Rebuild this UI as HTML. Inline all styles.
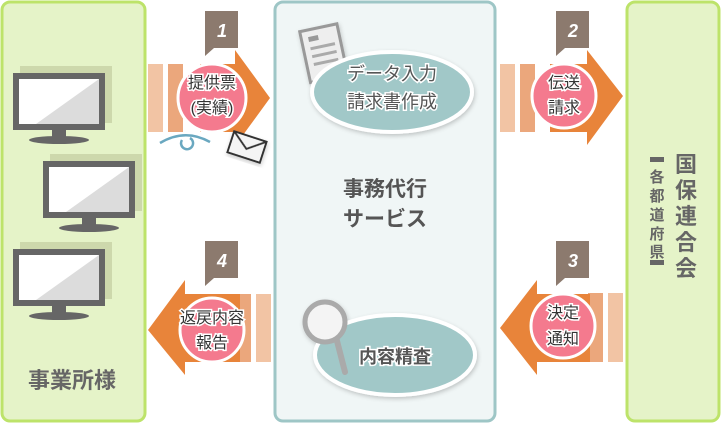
<!DOCTYPE html>
<html><head><meta charset="utf-8"><style>
body{margin:0;background:#fff;width:722px;height:424px;overflow:hidden}
svg{display:block}
text{font-family:"Liberation Sans","Noto Sans CJK JP",sans-serif}
</style></head><body>
<svg width="722" height="424" viewBox="0 0 722 424">
<defs>
<filter id="sh" x="-20%" y="-20%" width="140%" height="140%"><feDropShadow dx="1" dy="2" stdDeviation="2" flood-color="#000" flood-opacity="0.2"/></filter>
</defs>
<!-- left panel -->
<rect x="2" y="2" width="143" height="419" rx="8" fill="#e5f3c8" stroke="#bde36a" stroke-width="3"/>
<g id="mon">
<rect x="20" y="66" width="92" height="57" fill="#bcc79a" opacity="0.6"/>
<rect x="13" y="73" width="92" height="57" fill="#666"/>
<rect x="19" y="79" width="80" height="45" fill="#fff"/>
<polygon points="99,79 99,124 36,124" fill="#dcdcdc"/>
<rect x="52" y="130" width="14" height="8" fill="#666"/>
<ellipse cx="59" cy="140" rx="30" ry="4" fill="#666"/>
</g>
<use href="#mon" x="30" y="88"/>
<use href="#mon" x="0" y="176"/>
<text x="72" y="388" font-size="22" font-weight="bold" fill="#666" text-anchor="middle">事業所様</text>
<!-- center -->
<rect x="275" y="2" width="220" height="419" rx="8" fill="#f0f6f6" stroke="#9ec6c6" stroke-width="3"/>
<text x="385" y="196" font-size="21" font-weight="bold" fill="#555" text-anchor="middle">事務代行</text>
<text x="385" y="226" font-size="21" font-weight="bold" fill="#555" text-anchor="middle">サービス</text>
<!-- oval 1 -->
<g filter="url(#sh)">
<g transform="rotate(-12 320 55)"><rect x="305" y="28" width="38" height="52" fill="#eee" stroke="#999" stroke-width="3"/>
<rect x="312" y="35" width="10" height="5" fill="#999"/><line x1="312" y1="47" x2="337" y2="47" stroke="#aaa" stroke-width="3"/><line x1="312" y1="55" x2="337" y2="55" stroke="#aaa" stroke-width="3"/><line x1="312" y1="63" x2="337" y2="63" stroke="#aaa" stroke-width="3"/></g>
<ellipse cx="392" cy="92" rx="80" ry="40" fill="#a1c8c8" stroke="#fff" stroke-width="4"/>
</g>
<text x="392" y="80" font-size="18" fill="#555" stroke="#fff" stroke-width="3" paint-order="stroke" text-anchor="middle">データ入力</text>
<text x="392" y="108" font-size="18" fill="#555" stroke="#fff" stroke-width="3" paint-order="stroke" text-anchor="middle">請求書作成</text>
<!-- oval 2 -->
<g filter="url(#sh)">
<ellipse cx="395" cy="355" rx="80" ry="40" fill="#a1c8c8" stroke="#fff" stroke-width="4"/>
<line x1="336" y1="337" x2="345" y2="372" stroke="#aaa" stroke-width="6" stroke-linecap="round"/>
<circle cx="325" cy="322" r="20" fill="#f4f4f4" stroke="#aaa" stroke-width="5"/>
</g>
<text x="395" y="363" font-size="18" font-weight="bold" fill="#555" stroke="#fff" stroke-width="3" paint-order="stroke" text-anchor="middle">内容精査</text>
<!-- right panel -->
<rect x="627" y="2" width="92" height="419" rx="8" fill="#e5f3c8" stroke="#bde36a" stroke-width="3"/>
<g font-size="22" font-weight="bold" fill="#666" text-anchor="middle">
<text x="686" y="172">国</text><text x="686" y="198">保</text><text x="686" y="224">連</text><text x="686" y="250">合</text><text x="686" y="276">会</text></g>
<path d="M650,162 v-5 h14 v5 z M650,260 v5 h14 v-5 z" fill="#666"/>
<g font-size="15" font-weight="bold" fill="#666" text-anchor="middle">
<text x="657" y="182">各</text><text x="657" y="201">都</text><text x="657" y="220">道</text><text x="657" y="239">府</text><text x="657" y="257">県</text></g>
<!-- arrow 1 -->
<rect x="148" y="64" width="15" height="68" fill="#f2c4a4"/><rect x="168" y="64" width="15" height="68" fill="#eba77c"/>
<polygon points="200,64 235,64 235,50 270,98 235,146 235,132 200,132" fill="#e8843a"/>
<circle cx="212" cy="98" r="34" fill="#f47a8e" stroke="#fff" stroke-width="3"/>
<text x="212" y="88" font-size="16" fill="#333" stroke="#fff" stroke-width="3" paint-order="stroke" text-anchor="middle">提供票</text>
<text x="212" y="113" font-size="16" fill="#333" stroke="#fff" stroke-width="3" paint-order="stroke" text-anchor="middle">(実績)</text>
<path d="M160,143 Q185,128 210,142 M182,140 a6,6 0 1 0 8,-2" fill="none" stroke="#6aa8c0" stroke-width="2.5"/>
<g transform="rotate(18 247 147)" filter="url(#sh)"><rect x="230" y="136" width="34" height="22" fill="#f4f4f4" stroke="#333" stroke-width="2"/><polyline points="230,136 247,149 264,136" fill="none" stroke="#333" stroke-width="2"/></g>
<!-- arrow 2 -->
<rect x="500" y="64" width="15" height="68" fill="#f2c4a4"/><rect x="520" y="64" width="15" height="68" fill="#eba77c"/>
<polygon points="550,64 587,64 587,50 623,96 587,145 587,132 550,132" fill="#e8843a"/>
<circle cx="564" cy="96" r="32" fill="#f47a8e" stroke="#fff" stroke-width="3"/>
<text x="564" y="88" font-size="16" fill="#333" stroke="#fff" stroke-width="3" paint-order="stroke" text-anchor="middle">伝送</text>
<text x="564" y="113" font-size="16" fill="#333" stroke="#fff" stroke-width="3" paint-order="stroke" text-anchor="middle">請求</text>
<!-- arrow 3 -->
<rect x="588" y="293" width="15" height="69" fill="#eba77c"/><rect x="608" y="293" width="15" height="69" fill="#f2c4a4"/>
<polygon points="590,294 537,294 537,280 500,328 537,375 537,362 590,362" fill="#e8843a"/>
<circle cx="563" cy="326" r="32" fill="#f47a8e" stroke="#fff" stroke-width="3"/>
<text x="563" y="318" font-size="16" fill="#333" stroke="#fff" stroke-width="3" paint-order="stroke" text-anchor="middle">決定</text>
<text x="563" y="344" font-size="16" fill="#333" stroke="#fff" stroke-width="3" paint-order="stroke" text-anchor="middle">通知</text>
<!-- arrow 4 -->
<rect x="236" y="294" width="15" height="68" fill="#eba77c"/><rect x="256" y="294" width="15" height="68" fill="#f2c4a4"/>
<polygon points="240,294 185,294 185,280 148,330 185,375 185,362 240,362" fill="#e8843a"/>
<circle cx="212" cy="330" r="32" fill="#f47a8e" stroke="#fff" stroke-width="3"/>
<text x="212" y="323" font-size="16" fill="#333" stroke="#fff" stroke-width="3" paint-order="stroke" text-anchor="middle">返戻内容</text>
<text x="212" y="348" font-size="16" fill="#333" stroke="#fff" stroke-width="3" paint-order="stroke" text-anchor="middle">報告</text>
<!-- badges -->
<g fill="#8c7a6e">
<path d="M205,11h33v37h-24l-9,8z"/><path d="M556,11h33v37h-24l-9,8z"/>
<path d="M556,241h33v37h-24l-9,8z"/><path d="M205,241h33v37h-24l-9,8z"/>
</g>
<g font-size="18" font-weight="bold" font-style="italic" fill="#fff" text-anchor="middle">
<text x="222" y="37">1</text><text x="573" y="37">2</text><text x="573" y="267">3</text><text x="222" y="267">4</text></g>
</svg>
</body></html>
